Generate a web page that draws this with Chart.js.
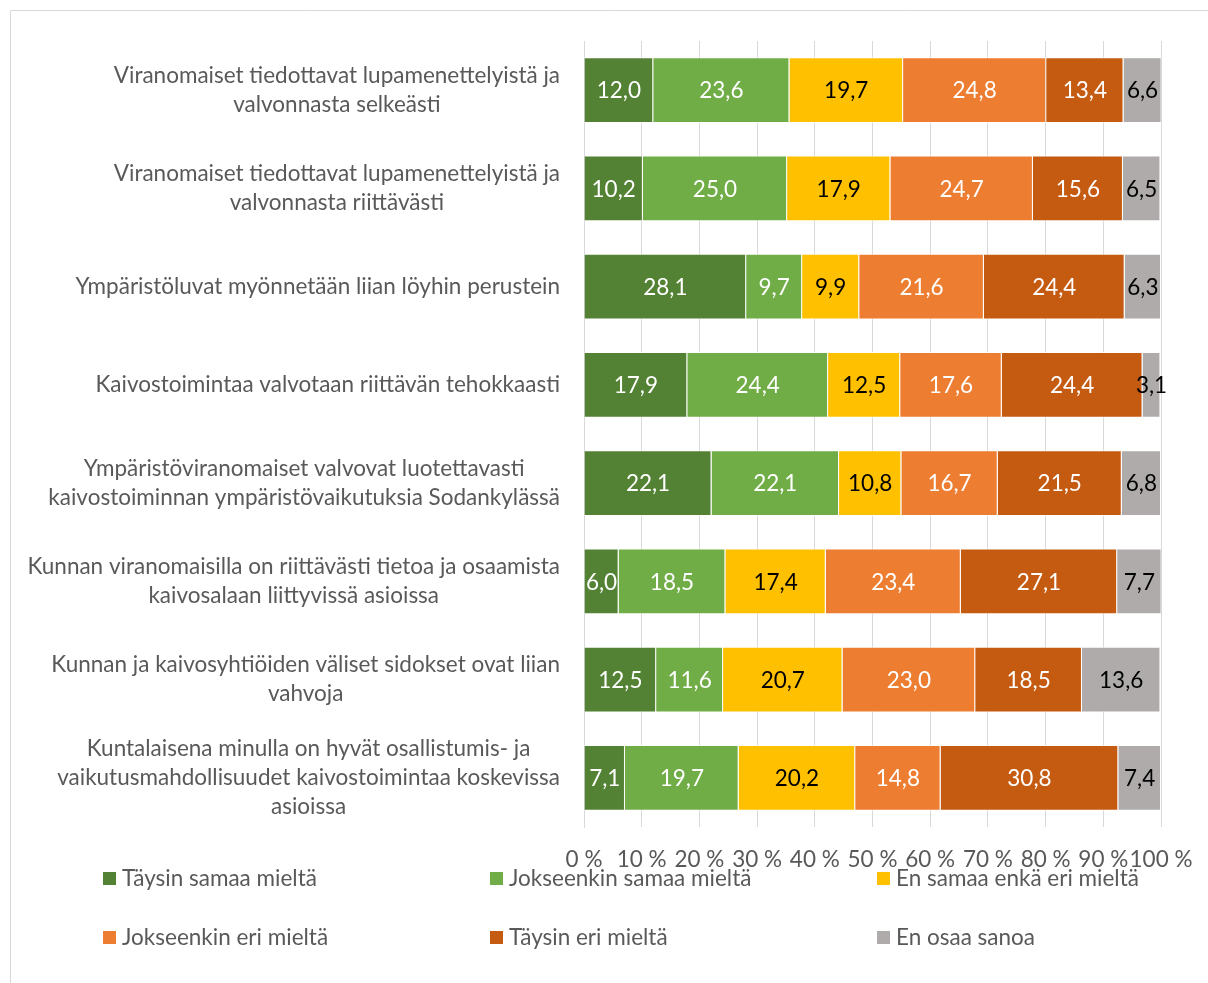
<!DOCTYPE html>
<html>
<head>
<meta charset="utf-8">
<script src="https://cdn.jsdelivr.net/npm/chart.js@4"></script>
<style>
  html, body { margin: 0; padding: 0; background: #fff; }
  canvas { display: block; }
</style>
</head>
<body>
<canvas id="barChart" width="1208" height="983"></canvas>
<script>
// kysymykset (y-akseli)
const categories = [
  ["Viranomaiset tiedottavat lupamenettelyistä ja", "valvonnasta selkeästi"],
  ["Viranomaiset tiedottavat lupamenettelyistä ja", "valvonnasta riittävästi"],
  ["Ympäristöluvat myönnetään liian löyhin perustein"],
  ["Kaivostoimintaa valvotaan riittävän tehokkaasti"],
  ["Ympäristöviranomaiset valvovat luotettavasti", "kaivostoiminnan ympäristövaikutuksia Sodankylässä"],
  ["Kunnan viranomaisilla on riittävästi tietoa ja osaamista", "kaivosalaan liittyvissä asioissa"],
  ["Kunnan ja kaivosyhtiöiden väliset sidokset ovat liian", "vahvoja"],
  ["Kuntalaisena minulla on hyvät osallistumis- ja", "vaikutusmahdollisuudet kaivostoimintaa koskevissa", "asioissa"]
];

const seriesNames = [
  "Täysin samaa mieltä",
  "Jokseenkin samaa mieltä",
  "En samaa enkä eri mieltä",
  "Jokseenkin eri mieltä",
  "Täysin eri mieltä",
  "En osaa sanoa"
];

const taysinSamaa    = [12.0, 10.2, 28.1, 17.9, 22.1, 6.0, 12.5, 7.1];
const jokseenkinSama = [23.6, 25.0, 9.7, 24.4, 22.1, 18.5, 11.6, 19.7];
const enSamaaEnkaEri = [19.7, 17.9, 9.9, 12.5, 10.8, 17.4, 20.7, 20.2];
const jokseenkinEri  = [24.8, 24.7, 21.6, 17.6, 16.7, 23.4, 23.0, 14.8];
const taysinEri      = [13.4, 15.6, 24.4, 24.4, 21.5, 27.1, 18.5, 30.8];
const enOsaaSanoa    = [6.6, 6.5, 6.3, 3.1, 6.8, 7.7, 13.6, 7.4];

const xTicks = [0, 10, 20, 30, 40, 50, 60, 70, 80, 90, 100];

const colors = ["#548235", "#70AD47", "#FFC000", "#ED7D31", "#C55A11", "#AFABAB"];
const labelColors = ["#fff", "#fff", "#000", "#fff", "#fff", "#000"];
const FONT = "Lato, 'Open Sans', sans-serif";
const FS = 22.5;
const GREY_TXT = "#595959";

const allSeries = [taysinSamaa, jokseenkinSama, enSamaaEnkaEri, jokseenkinEri, taysinEri, enOsaaSanoa];

const datasets = allSeries.map((arr, i) => ({
  label: seriesNames[i],
  data: arr,
  backgroundColor: colors[i],
  borderColor: "rgba(255,255,255,0.7)",
  borderWidth: 1,
  categoryPercentage: 1.0,
  barPercentage: 0.67
}));

// kehys, y-akselin tekstit, arvot ja selite piirretään itse
const customDraw = {
  id: "customDraw",
  beforeDraw(chart) {
    const ctx = chart.ctx;
    ctx.save();
    ctx.strokeStyle = "#d9d9d9";
    ctx.lineWidth = 1;
    ctx.beginPath();
    ctx.moveTo(10.5, chart.height);
    ctx.lineTo(10.5, 10.5);
    ctx.lineTo(chart.width, 10.5);
    ctx.stroke();
    ctx.restore();
  },
  afterDraw(chart) {
    const ctx = chart.ctx;
    const yScale = chart.scales.y;
    const area = chart.chartArea;
    ctx.save();

    // y-akselin tekstit: lohko oikealle, rivit keskitetty
    ctx.font = FS + "px " + FONT;
    ctx.fillStyle = GREY_TXT;
    ctx.textAlign = "center";
    ctx.textBaseline = "middle";
    const lh = 29;
    categories.forEach((lines, i) => {
      const yc = yScale.getPixelForValue(i);
      let w = 0;
      lines.forEach(l => { w = Math.max(w, ctx.measureText(l).width); });
      const cx = area.left - 24 - w / 2;
      lines.forEach((l, j) => {
        ctx.fillText(l, cx, yc + (j - (lines.length - 1) / 2) * lh);
      });
    });

    // arvot palkeissa
    chart.data.datasets.forEach((ds, di) => {
      const meta = chart.getDatasetMeta(di);
      ctx.fillStyle = labelColors[di];
      meta.data.forEach((bar, i) => {
        const v = ds.data[i];
        const cx = (bar.x + bar.base) / 2;
        ctx.fillText(v.toFixed(1).replace(".", ","), cx, bar.y + 1);
      });
    });

    // selite: 3 saraketta, 2 riviä
    const colX = [103, 490, 877];
    const rowY = [879, 938];
    ctx.textAlign = "left";
    seriesNames.forEach((name, i) => {
      const x = colX[i % 3];
      const y = rowY[Math.floor(i / 3)];
      ctx.fillStyle = colors[i];
      ctx.fillRect(x, y - 7, 13, 13);
      ctx.fillStyle = GREY_TXT;
      ctx.fillText(name, x + 19, y);
    });
    ctx.restore();
  }
};

const ctx = document.getElementById("barChart").getContext("2d");
const barChart = new Chart(ctx, {
  type: "bar",
  data: { labels: categories, datasets: datasets },
  options: {
    indexAxis: "y",
    responsive: false,
    animation: false,
    layout: { padding: { top: 41, right: 47, bottom: 96, left: 0 } },
    plugins: {
      legend: { display: false },
      tooltip: { enabled: false }
    },
    scales: {
      x: {
        stacked: true,
        min: 0,
        max: 100,
        afterBuildTicks: (scale) => { scale.ticks = xTicks.map(v => ({ value: v })); },
        afterFit: (scale) => {
          scale.height = 60;
          scale.paddingLeft = 0;
          scale.paddingRight = 0;
        },
        grid: { color: "#d9d9d9", drawTicks: false },
        border: { display: false },
        ticks: {
          padding: 19,
          autoSkip: false,
          maxRotation: 0,
          minRotation: 0,
          color: GREY_TXT,
          font: { family: FONT, size: FS },
          callback: (v) => v + " %"
        }
      },
      y: {
        stacked: true,
        afterFit: (scale) => { scale.width = 584; },
        grid: { display: false },
        border: { display: true, color: "#d9d9d9" },
        ticks: { display: false }
      }
    }
  },
  plugins: [customDraw]
});
</script>
</body>
</html>
